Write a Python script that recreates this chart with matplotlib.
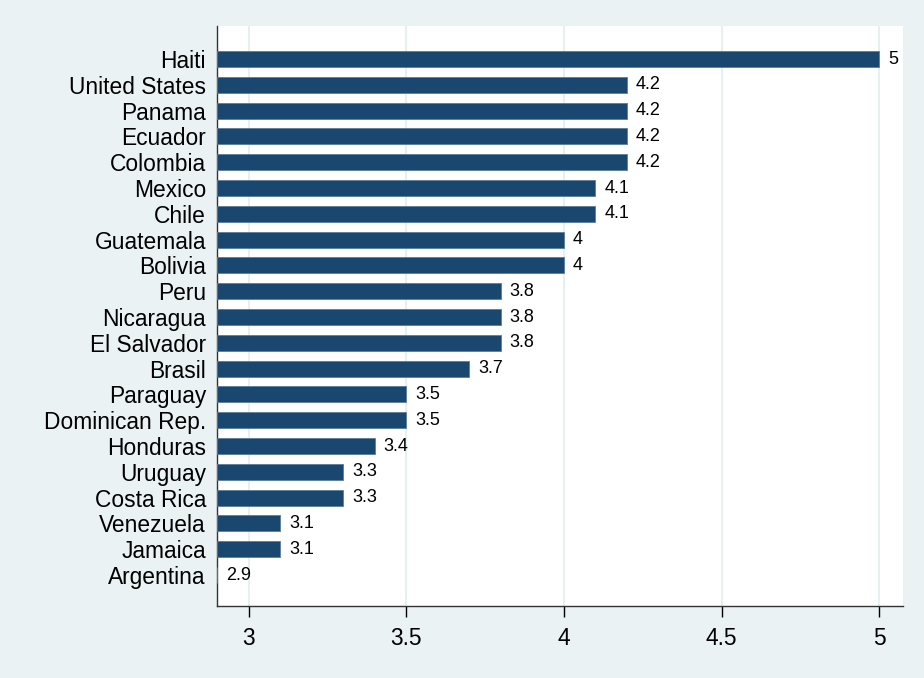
import matplotlib.pyplot as plt
import numpy as np

countries = ['Haiti', 'United States', 'Panama', 'Ecuador', 'Colombia', 'Mexico',
             'Chile', 'Guatemala', 'Bolivia', 'Peru', 'Nicaragua', 'El Salvador',
             'Brasil', 'Paraguay', 'Dominican Rep.', 'Honduras', 'Uruguay',
             'Costa Rica', 'Venezuela', 'Jamaica', 'Argentina']
values = [5, 4.2, 4.2, 4.2, 4.2, 4.1, 4.1, 4, 4, 3.8, 3.8, 3.8, 3.7, 3.5, 3.5,
          3.4, 3.3, 3.3, 3.1, 3.1, 2.9]
labels = ['5', '4.2', '4.2', '4.2', '4.2', '4.1', '4.1', '4', '4', '3.8', '3.8',
          '3.8', '3.7', '3.5', '3.5', '3.4', '3.3', '3.3', '3.1', '3.1', '2.9']
xticks = [3, 3.5, 4, 4.5, 5]

plt.rcParams['font.family'] = ['Liberation Sans', 'DejaVu Sans']

base = 2.9
fig = plt.figure(figsize=(9.24, 6.78), dpi=100, facecolor='#eaf2f3')
ax = fig.add_axes([217/924, 1 - 606/678, (903-217)/924, (606-26)/678])
ax.set_facecolor('white')

n = len(countries)
ypos = np.arange(n)[::-1]
vals = np.array(values)
ax.barh(ypos, vals - base, left=base, height=0.62, color='#1a476f',
        edgecolor='#5a7d9a', linewidth=0.6, zorder=3)
for y, v, t in zip(ypos, vals, labels):
    ax.text(v + 0.028, y, t, va='center', ha='left', fontsize=13, color='black', zorder=4)

ax.set_xlim(2.9, 5.075)
ax.set_ylim(-1.2, n - 1 + 1.28)
ax.set_xticks(xticks)
ax.set_xticklabels(['3', '3.5', '4', '4.5', '5'], fontsize=16.4)
ax.set_yticks(ypos)
ax.set_yticklabels(countries, fontsize=16.4)
ax.tick_params(axis='y', length=0, pad=8)
ax.tick_params(axis='x', length=8, width=1, pad=7, direction='out')
ax.grid(axis='x', color='#e2ecef', linewidth=1.2, zorder=0)
for s in ['top', 'right']:
    ax.spines[s].set_visible(False)
for s in ['left', 'bottom']:
    ax.spines[s].set_color('#333333')
    ax.spines[s].set_linewidth(1)

fig.savefig('out.png', dpi=100, facecolor=fig.get_facecolor())
